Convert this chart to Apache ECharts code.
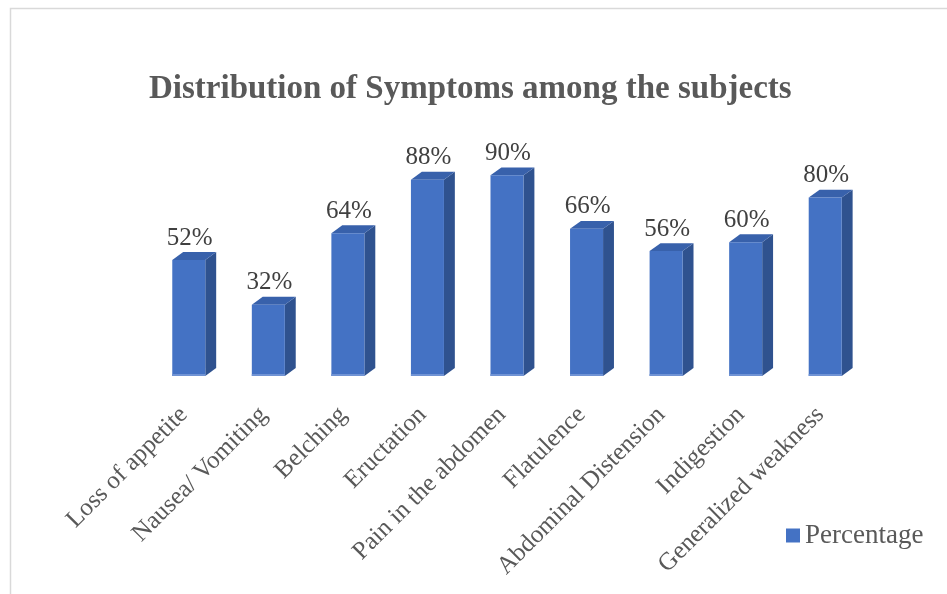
<!DOCTYPE html>
<html>
<head>
<meta charset="utf-8">
<script src="https://cdn.jsdelivr.net/npm/echarts@6/dist/echarts.min.js"></script>
<style>
html,body{margin:0;padding:0;background:#fff;}
#chart{width:947px;height:594px;}
</style>
</head>
<body>
<div id="chart"></div>
<script>
const categories = ["Loss of appetite","Nausea/ Vomiting","Belching","Eructation","Pain in the abdomen","Flatulence","Abdominal Distension","Indigestion","Generalized weakness"];
const percentages = [52, 32, 64, 88, 90, 66, 56, 60, 80];
const seriesName = "Percentage";
const titleText = "Distribution of Symptoms among the subjects";

const FONT = "'Liberation Serif', 'Times New Roman', serif";
const chart = echarts.init(document.getElementById('chart'));

function renderItem(params, api) {
  const idx = api.value(0);
  const v = api.value(1);
  const top = api.coord([idx, v]);
  const base = api.coord([idx, 0]);
  const band = api.size([1, 0])[0];
  const w = band * 0.415;
  const dx = w * 0.33;
  const dy = w * 0.24;
  const x0 = top[0] - w / 2, x1 = top[0] + w / 2;
  const ty = top[1], by = base[1];
  return {
    type: 'group',
    children: [
      { type: 'polygon', shape: { points: [[x1, ty], [x1 + dx, ty - dy], [x1 + dx, by - dy], [x1, by]] }, style: { fill: '#2F528F' } },
      { type: 'polygon', shape: { points: [[x0, ty], [x1, ty], [x1 + dx, ty - dy], [x0 + dx, ty - dy]] }, style: { fill: '#3861AB' } },
      { type: 'rect', shape: { x: x0, y: ty, width: w, height: by - ty }, style: { fill: '#4472C4' } },
      { type: 'rect', shape: { x: x0, y: by - 2, width: w, height: 2 }, style: { fill: '#7093D4' } },
      { type: 'text', style: { text: v + '%', x: top[0] + 1, y: ty - 22, align: 'center', verticalAlign: 'middle', fill: '#404040', font: '25px ' + FONT } }
    ]
  };
}

chart.setOption({
  animation: false,
  title: {
    text: titleText,
    left: 144, top: 68,
    textStyle: { fontFamily: FONT, fontSize: 33, fontWeight: 'bold', color: '#595959' }
  },
  graphic: [{
    type: 'rect', left: 8, top: 6, shape: { width: 1200, height: 800 },
    style: { fill: 'none', stroke: '#D9D9D9', lineWidth: 1.5 }, silent: true, z: -10
  }],
  legend: {
    left: 781, top: 517,
    itemWidth: 14, itemHeight: 14, itemGap: 6,
    icon: 'rect',
    textStyle: { fontFamily: FONT, fontSize: 27, color: '#595959' },
    data: [seriesName]
  },
  grid: { left: 149, right: 82, top: 153, bottom: 218 },
  xAxis: {
    type: 'category', data: categories,
    axisLine: { show: false }, axisTick: { show: false },
    axisLabel: { rotate: 45, margin: 30, interval: 0, padding: [0, 7, 0, 0], fontFamily: FONT, fontSize: 25, color: '#595959' }
  },
  yAxis: { type: 'value', min: 0, max: 100, show: false, splitLine: { show: false } },
  series: [{
    name: seriesName, type: 'custom', renderItem: renderItem,
    itemStyle: { color: '#4472C4' },
    encode: { x: 0, y: 1 },
    data: percentages.map((v, i) => [i, v])
  }]
});
</script>
</body>
</html>
